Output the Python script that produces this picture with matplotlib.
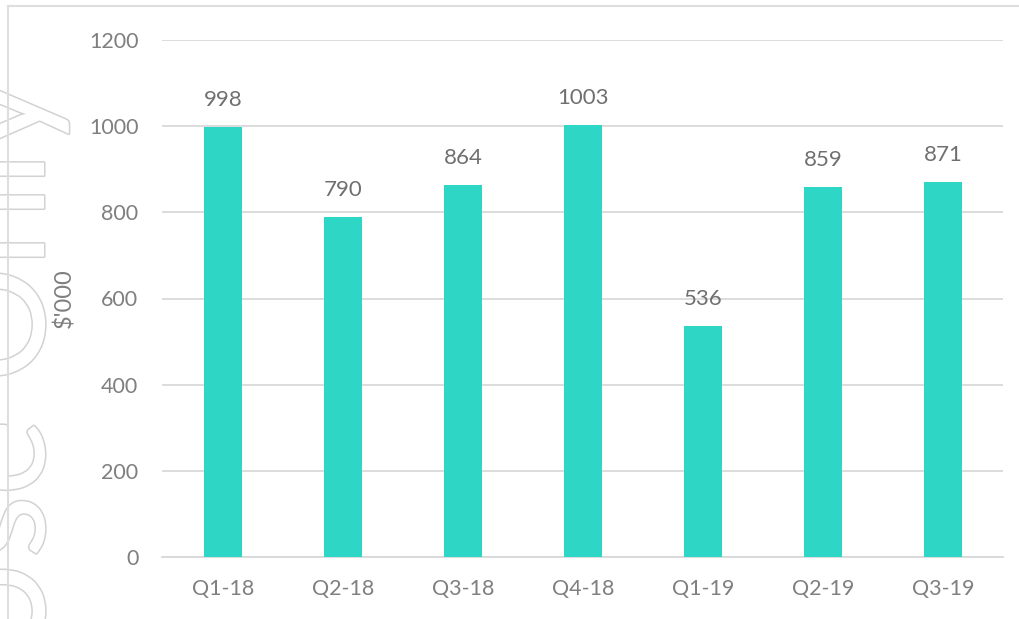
import matplotlib.pyplot as plt
import matplotlib.patheffects as pe
from matplotlib.lines import Line2D

quarters = ["Q1-18", "Q2-18", "Q3-18", "Q4-18", "Q1-19", "Q2-19", "Q3-19"]
values = [998, 790, 864, 1003, 536, 859, 871]
yticks = [0, 200, 400, 600, 800, 1000, 1200]

plt.rcParams['font.family'] = ['Lato', 'DejaVu Sans']

fig = plt.figure(figsize=(10.2, 6.19), dpi=100)
ax = fig.add_axes([162 / 1020, 1 - 557 / 619, 841 / 1020, 517 / 619])
ax.patch.set_alpha(0)

# watermark, hollow letters cut off at the left edge
fig.text(44 / 1020, 1 - 77 / 619, "Internal Use Only", rotation=90,
         rotation_mode='anchor', ha='right', va='baseline',
         fontsize=104, color='white', zorder=0,
         path_effects=[pe.withStroke(linewidth=2.2, foreground='#d2d2d2')])

# frame of the slide
fig.add_artist(Line2D([8 / 1020, 8 / 1020], [0, 1 - 6 / 619], color='#dedede', lw=1.5))
fig.add_artist(Line2D([8 / 1020, 1], [1 - 6 / 619, 1 - 6 / 619], color='#dedede', lw=1.5))

xs = list(range(len(quarters)))
ax.bar(xs, values, width=0.32, color='#2dd6c5', zorder=3)
for x, v in zip(xs, values):
    ax.annotate(str(v), (x, v), xytext=(0, 12), textcoords='offset points',
                ha='center', va='bottom', fontsize=16, color='#6f6f6f')

ax.set_xlim(-0.51, 6.5)
ax.set_ylim(0, 1200)
ax.set_yticks(yticks)
ax.set_xticks(xs)
ax.set_xticklabels(quarters)
ax.tick_params(axis='both', length=0, labelsize=15.5, colors='#7f7f7f')
ax.tick_params(axis='y', pad=17)
ax.tick_params(axis='x', pad=16)
ax.grid(axis='y', color='#d9d9d9', lw=1.3, zorder=0)
for s in ['top', 'right', 'left']:
    ax.spines[s].set_visible(False)
ax.spines['bottom'].set_color('#d9d9d9')
ax.spines['bottom'].set_linewidth(1.3)
ax.set_ylabel("$'000", fontsize=17, color='#7f7f7f', labelpad=10)

fig.savefig('out.png', dpi=100)
